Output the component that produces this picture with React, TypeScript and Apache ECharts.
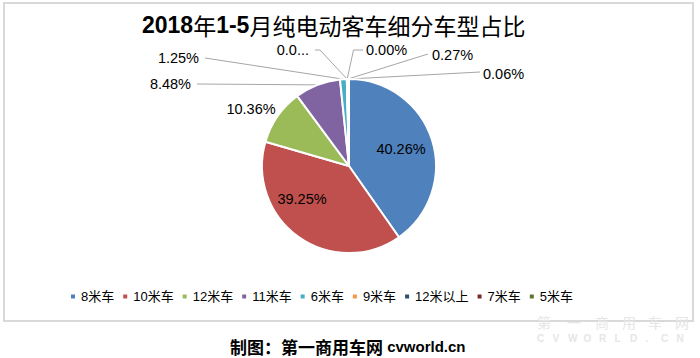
import React, { useEffect, useRef } from 'react';
import * as echarts from 'echarts';

const categories = ['8米车', '10米车', '12米车', '11米车', '6米车', '9米车', '12米以上', '7米车', '5米车'];
const shares = [40.26, 39.25, 10.36, 8.48, 1.25, 0.07, 0.0, 0.27, 0.06];
const colors = ['#4F81BD', '#C0504D', '#9BBB59', '#8064A2', '#4BACC6', '#F79646', '#2C4D75', '#772C2A', '#5F7530'];
const titleParts = ['2018', '年', '1-5', '月纯电动客车细分车型占比'];
const footerCn = '制图：第一商用车网';
const footerEn = 'cvworld.cn';
const watermarkCn = ['第', '一', '商', '用', '车', '网'];
const watermarkEn = ['C', 'V', 'W', 'O', 'R', 'L', 'D', '.', 'C', 'N'];

type Placement = { x: number; y: number; align: 'left' | 'right' | 'center'; line?: number[][] };
const placements: Placement[] = [
  { x: 401, y: 149, align: 'center' },
  { x: 302, y: 199, align: 'center' },
  { x: 251, y: 108.5, align: 'center' },
  { x: 191, y: 83.5, align: 'right', line: [[197, 84], [197, 84]] },
  { x: 199, y: 58, align: 'right', line: [[205, 58], [205, 58]] },
  { x: 309, y: 50, align: 'right', line: [[320, 50], [315, 50]] },
  { x: 366, y: 49.5, align: 'left', line: [[353.5, 50], [363, 50]] },
  { x: 432, y: 55, align: 'left', line: [[428, 54], [428, 54]] },
  { x: 483, y: 74, align: 'left', line: [[480, 72], [480, 72]] },
];

export default function App() {
  const ref = useRef<HTMLDivElement>(null);
  useEffect(() => {
    if (!ref.current) return;
    const chart = echarts.init(ref.current, null, { renderer: 'svg' });
    const latin = "'Liberation Sans', Arial, 'Noto Sans CJK SC', sans-serif";
    const data = categories.map((name, i) => {
      const item: any = { name, value: shares[i], itemStyle: { color: colors[i] } };
      if (i <= 1) {
        item.label = { position: 'inside' };
      } else if (i === 2) {
        item.labelLine = { show: false };
      }
      if (i === 5) {
        item.label = { width: 37, overflow: 'truncate', ellipsis: '...' };
      }
      return item;
    });

    const graphics: any[] = [
      {
        type: 'rect',
        shape: { x: 4, y: 3, width: 689, height: 318 },
        style: { fill: 'none', stroke: '#d9d9d9', lineWidth: 2 },
        silent: true,
      },
      {
        type: 'text',
        left: 230,
        top: 338,
        style: {
          text: `{c|${footerCn}}{e| ${footerEn}}`,
          rich: {
            c: { fontSize: 17, fontWeight: 'bold', fontFamily: "'Noto Sans CJK SC', sans-serif", fill: '#000' },
            e: { fontSize: 15, fontWeight: 'bold', fontFamily: latin, fill: '#000' },
          },
        },
      },
    ];
    const wmX = [537, 567, 595, 622, 648, 675];
    watermarkCn.forEach((ch, i) => {
      graphics.push({
        type: 'text',
        x: wmX[i],
        y: 315,
        style: { text: ch, fontSize: 14, fill: '#e6e6e6', fontFamily: "'Noto Sans CJK SC', sans-serif" },
        silent: true,
      });
    });
    watermarkEn.forEach((ch, i) => {
      graphics.push({
        type: 'text',
        x: 537 + i * 15.5,
        y: 333,
        style: { text: ch, fontSize: 10, fontWeight: 'bold', fill: '#e6e6e6', fontFamily: latin },
        silent: true,
      });
    });

    chart.setOption({
      animation: false,
      backgroundColor: '#fff',
      title: {
        left: 137,
        top: 8,
        text: `{a|${titleParts[0]}}{b|${titleParts[1]}}{a|${titleParts[2]}}{b|${titleParts[3]}}`,
        textStyle: {
          rich: {
            a: { fontSize: 23, fontWeight: 'bold', fontFamily: latin, color: '#000' },
            b: { fontSize: 23, fontWeight: 'normal', fontFamily: "'Noto Sans CJK SC', sans-serif", color: '#000' },
          },
        },
      },
      legend: {
        data: categories,
        left: 69,
        top: 290,
        padding: 0,
        icon: 'rect',
        itemWidth: 6,
        itemHeight: 6,
        itemGap: 7,
        selectedMode: false,
        textStyle: { fontSize: 13, color: '#000', fontFamily: latin },
      },
      graphic: graphics,
      series: [
        {
          type: 'pie',
          center: [349, 166],
          radius: 87,
          startAngle: 90,
          clockwise: true,
          avoidLabelOverlap: false,
          emphasis: { disabled: true },
          itemStyle: { borderColor: '#fff', borderWidth: 2 },
          label: {
            show: true,
            fontSize: 14.5,
            color: '#000',
            fontFamily: latin,
            formatter: (p: any) => `${Number(p.value).toFixed(2)}%`,
          },
          labelLine: { show: true, length: 10, length2: 10, lineStyle: { color: '#a6a6a6', width: 1 } },
          labelLayout: (params: any) => {
            const p = placements[params.dataIndex];
            const res: any = { x: p.x, y: p.y, align: p.align, verticalAlign: 'middle' };
            const start = params.labelLinePoints ? params.labelLinePoints[0] : null;
            if (start && p.line) res.labelLinePoints = [start, p.line[0], p.line[1]];
            return res;
          },
          data,
        },
      ],
    });
    return () => chart.dispose();
  }, []);
  return (
    <div
      ref={ref}
      style={{ position: 'fixed', left: 0, top: 0, width: 700, height: 358, background: '#fff' }}
    />
  );
}
